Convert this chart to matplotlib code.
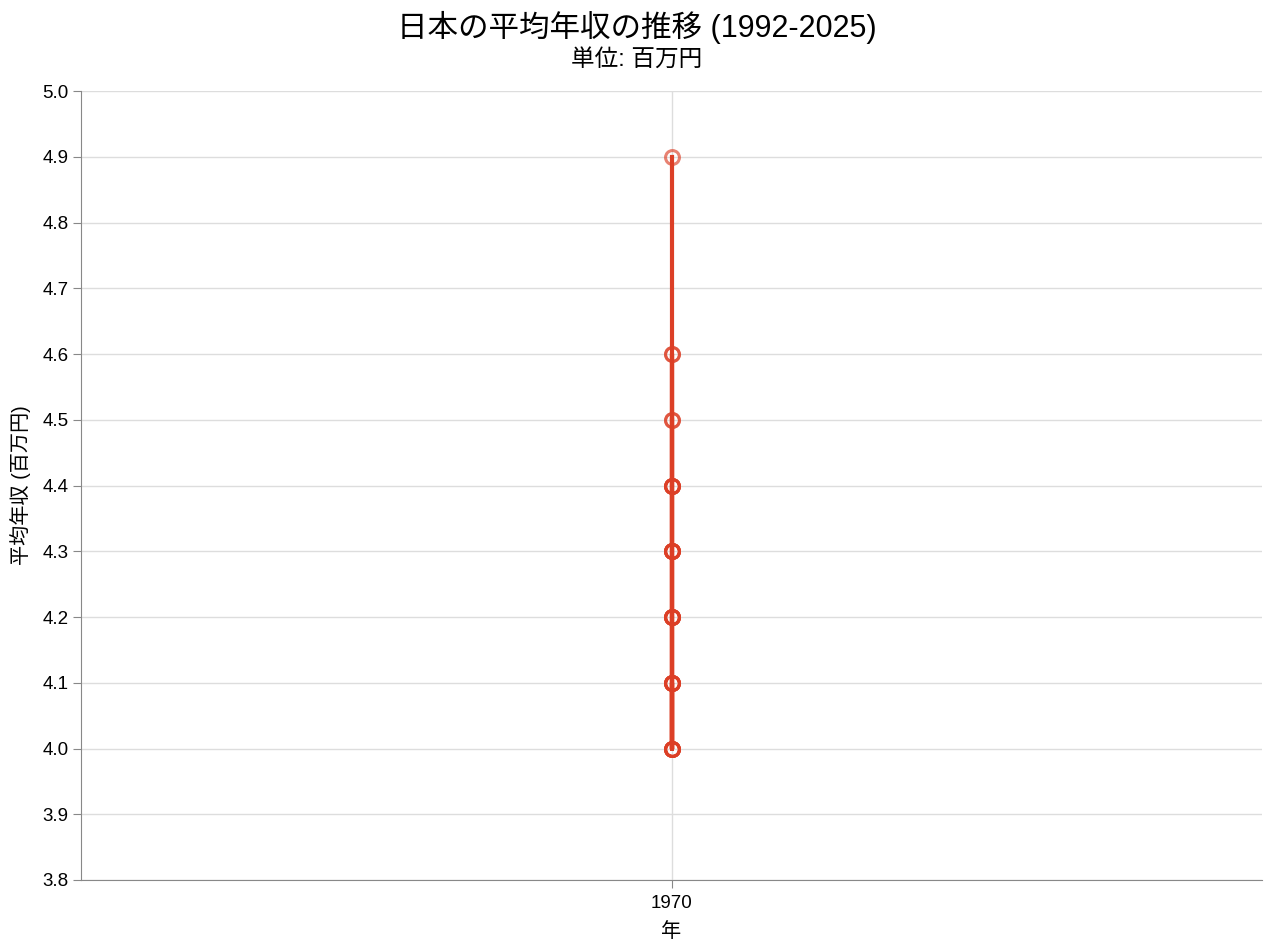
import matplotlib
matplotlib.use('Agg')
import matplotlib.pyplot as plt
import numpy as np
import pandas as pd

plt.rcParams['font.family'] = ['Liberation Sans', 'Noto Sans CJK JP', 'DejaVu Sans']

# data (rounded to 0.1 million yen)
years = list(range(1992, 2026))
income = [4.5, 4.4, 4.4, 4.5, 4.6, 4.6, 4.4, 4.3, 4.3, 4.2,
          4.4, 4.4, 4.3, 4.3, 4.2, 4.2, 4.1, 4.0, 4.0, 4.0,
          4.1, 4.1, 4.0, 4.0, 4.1, 4.1, 4.2, 4.2, 4.0, 4.1,
          4.2, 4.3, 4.3, 4.9]
yticks = [3.8, 3.9, 4.0, 4.1, 4.2, 4.3, 4.4, 4.5, 4.6, 4.7, 4.8, 4.9, 5.0]

# years were read as millisecond timestamps -> every point lands on 1970
xyear = pd.to_datetime(years, unit='ms').year.values

red = '#dc3f26'

fig = plt.figure(figsize=(12.73, 9.52), dpi=100)
ax = fig.add_axes([81/1273, 72/952, 1181/1273, 789/952])

ax.plot(xyear, income, color=red, lw=3, zorder=3)
ax.plot(xyear, income, 'o', ms=10, mfc='none', mec=red, mew=2.2,
        alpha=0.65, zorder=4)

ax.set_xlim(1969, 1971)
ax.set_ylim(3.8, 5.0)
ax.set_xticks([1970])
ax.set_xticklabels(['1970'])
ax.set_yticks(yticks)
ax.set_yticklabels(['%.1f' % v for v in yticks])

ax.grid(True, color='#dddddd', lw=1)
ax.set_axisbelow(True)
for s in ['top', 'right']:
    ax.spines[s].set_visible(False)
for s in ['left', 'bottom']:
    ax.spines[s].set_color('#888888')
ax.tick_params(colors='#888888', labelcolor='black', labelsize=13.5, length=6, pad=3)
ax.tick_params(axis='x', pad=5)

ax.set_xlabel('年', fontsize=14.5, labelpad=7)
ax.set_ylabel('平均年収 (百万円)', fontsize=14.5, labelpad=8)

fig.text(0.5, 1 - 27/952, '日本の平均年収の推移 (1992-2025)', ha='center', va='center',
         fontsize=22)
fig.text(0.5, 1 - 60/952, '単位: 百万円', ha='center', va='center', fontsize=17)

plt.savefig('out.png', dpi=100)
